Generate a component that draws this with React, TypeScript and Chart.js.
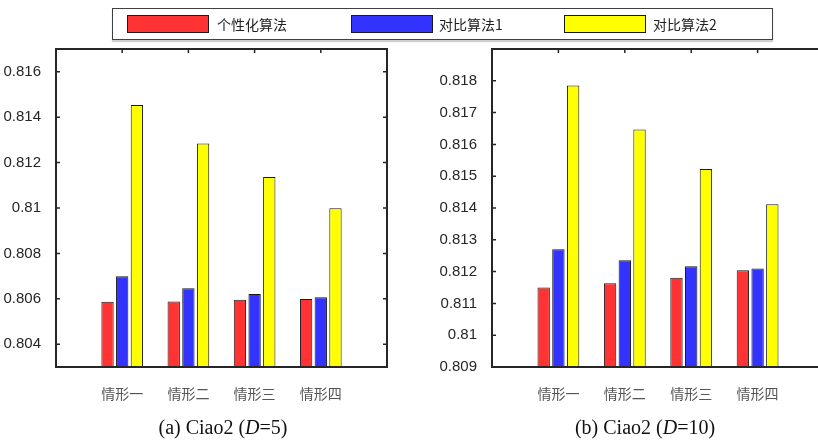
import React, { useEffect, useRef } from 'react';
import { Chart, registerables } from 'chart.js';
Chart.register(...registerables);

const categories = ['情形一', '情形二', '情形三', '情形四'];
const seriesNames = ['个性化算法', '对比算法1', '对比算法2'];
const seriesColors = ['#ff3333', '#3333ff', '#ffff00'];

const d5Personal = [0.80587, 0.80588, 0.80596, 0.80599];
const d5Compare1 = [0.8070, 0.80647, 0.80621, 0.80607];
const d5Compare2 = [0.81453, 0.81284, 0.81137, 0.80999];

const d10Personal = [0.8115, 0.81163, 0.81181, 0.81204];
const d10Compare1 = [0.8127, 0.81236, 0.81217, 0.8121];
const d10Compare2 = [0.81785, 0.81647, 0.81523, 0.81412];

const d5YTicks = [0.804, 0.806, 0.808, 0.81, 0.812, 0.814, 0.816];
const d10YTicks = [0.809, 0.81, 0.811, 0.812, 0.813, 0.814, 0.815, 0.816, 0.817, 0.818];
const d5YRange = [0.803, 0.817];
const d10YRange = [0.809, 0.819];

const AXIS_COLOR = '#262626';

const framePlugin = {
  id: 'matlabFrame',
  beforeDatasetsDraw(chart: any) {
    const { ctx, chartArea, scales } = chart;
    const { left, right, top, bottom } = chartArea;
    ctx.save();
    ctx.strokeStyle = AXIS_COLOR;
    ctx.lineWidth = 1.5;
    ctx.beginPath();
    scales.y.ticks.forEach((t: any) => {
      const py = scales.y.getPixelForValue(t.value);
      ctx.moveTo(left, py);
      ctx.lineTo(left + 4, py);
      ctx.moveTo(right, py);
      ctx.lineTo(right - 4, py);
    });
    scales.x.ticks.forEach((t: any) => {
      const px = scales.x.getPixelForValue(t.value);
      ctx.moveTo(px, top);
      ctx.lineTo(px, top + 4);
      ctx.moveTo(px, bottom);
      ctx.lineTo(px, bottom - 4);
    });
    ctx.stroke();
    ctx.restore();
  },
  afterDatasetsDraw(chart: any) {
    const { ctx, chartArea } = chart;
    const { left, right, top, bottom } = chartArea;
    ctx.save();
    ctx.strokeStyle = AXIS_COLOR;
    ctx.lineWidth = 2;
    ctx.strokeRect(left, top, right - left, bottom - top);
    ctx.restore();
  },
};

type PanelProps = {
  left: number;
  width: number;
  padRight: number;
  series: number[][];
  yTicks: number[];
  yRange: number[];
};

function Panel({ left, width, padRight, series, yTicks, yRange }: PanelProps) {
  const ref = useRef<HTMLCanvasElement | null>(null);
  useEffect(() => {
    if (!ref.current) return;
    const chart = new Chart(ref.current, {
      type: 'bar',
      data: {
        datasets: series.map((vals, si) => ({
          label: seriesNames[si],
          data: vals.map((v, i) => ({ x: i + 1, y: v })),
          backgroundColor: seriesColors[si],
          borderColor: '#1a1a1a',
          borderWidth: 1,
          borderSkipped: false,
          categoryPercentage: 0.665,
          barPercentage: 0.84,
        })),
      },
      plugins: [framePlugin],
      options: {
        animation: false,
        responsive: false,
        devicePixelRatio: 1,
        layout: { padding: { top: 49, left: 0, right: padRight, bottom: 0 } },
        plugins: { legend: { display: false }, tooltip: { enabled: false } },
        scales: {
          x: {
            type: 'linear',
            min: 0,
            max: 5,
            offset: false,
            grid: { display: false },
            border: { display: false },
            afterBuildTicks: (s: any) => {
              s.ticks = categories.map((_, i) => ({ value: i + 1 }));
            },
            afterFit: (s: any) => {
              s.height = 73;
            },
            ticks: {
              autoSkip: false,
              maxRotation: 0,
              padding: 10,
              color: '#555555',
              font: { family: '"Noto Sans CJK SC"', size: 14 },
              callback: (v: any) => categories[Math.round(v) - 1] ?? '',
            },
          },
          y: {
            type: 'linear',
            min: yRange[0],
            max: yRange[1],
            grid: { display: false },
            border: { display: false },
            afterBuildTicks: (s: any) => {
              s.ticks = yTicks.map((v) => ({ value: v }));
            },
            afterFit: (s: any) => {
              s.width = 56;
            },
            ticks: {
              padding: 7,
              color: AXIS_COLOR,
              font: { family: '"Liberation Sans", Arial, sans-serif', size: 15 },
              callback: (v: any) => String(Number(Number(v).toFixed(3))),
            },
          },
        },
      } as any,
    });
    return () => chart.destroy();
  }, []);
  return (
    <canvas
      ref={ref}
      width={width}
      height={440}
      style={{ position: 'absolute', left, top: 0, width, height: 440 }}
    />
  );
}

const legendItems = [
  { swatch: 127, text: 217 },
  { swatch: 351, text: 439 },
  { swatch: 564, text: 653 },
];

export default function App() {
  return (
    <div
      style={{
        position: 'fixed',
        left: 0,
        top: 0,
        width: 818,
        height: 440,
        overflow: 'hidden',
        background: '#ffffff',
      }}
    >
      <Panel
        left={0}
        width={400}
        padRight={13}
        series={[d5Personal, d5Compare1, d5Compare2]}
        yTicks={d5YTicks}
        yRange={d5YRange}
      />
      <Panel
        left={436}
        width={398}
        padRight={10}
        series={[d10Personal, d10Compare1, d10Compare2]}
        yTicks={d10YTicks}
        yRange={d10YRange}
      />
      <div
        style={{
          position: 'absolute',
          left: 112,
          top: 8,
          width: 659,
          height: 30,
          border: '1px solid #404040',
          background: '#ffffff',
          boxShadow: '0 2px 1px #cfcfcf',
        }}
      />
      {legendItems.map((it, i) => (
        <React.Fragment key={i}>
          <div
            style={{
              position: 'absolute',
              left: it.swatch,
              top: 15,
              width: 80,
              height: 16,
              background: seriesColors[i],
              border: '1px solid #1a1a1a',
            }}
          />
          <div
            style={{
              position: 'absolute',
              left: it.text,
              top: 13,
              height: 22,
              lineHeight: '22px',
              fontFamily: '"Noto Sans CJK SC", sans-serif',
              fontSize: 14,
              color: '#222222',
              whiteSpace: 'nowrap',
            }}
          >
            {seriesNames[i]}
          </div>
        </React.Fragment>
      ))}
      <div
        style={{
          position: 'absolute',
          left: 223,
          top: 414,
          transform: 'translateX(-50%)',
          fontFamily: '"Liberation Serif", "Times New Roman", serif',
          fontSize: 20,
          lineHeight: '26px',
          color: '#111111',
          whiteSpace: 'nowrap',
        }}
      >
        (a) Ciao2 (<i>D</i>=5)
      </div>
      <div
        style={{
          position: 'absolute',
          left: 645,
          top: 414,
          transform: 'translateX(-50%)',
          fontFamily: '"Liberation Serif", "Times New Roman", serif',
          fontSize: 20,
          lineHeight: '26px',
          color: '#111111',
          whiteSpace: 'nowrap',
        }}
      >
        (b) Ciao2 (<i>D</i>=10)
      </div>
    </div>
  );
}
